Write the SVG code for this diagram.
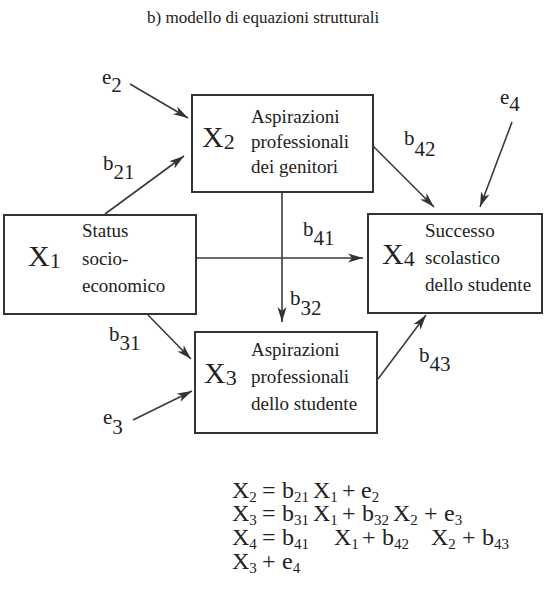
<svg xmlns="http://www.w3.org/2000/svg" width="544" height="597" viewBox="0 0 544 597" font-family="'Liberation Serif','Times New Roman',serif">
<style>
text{font-family:"Liberation Serif","Times New Roman",serif;fill:#222}
.t{font-size:17px}
.n{font-size:19px}
.X{font-size:30px}
.xs{font-size:22px}
.lb{font-size:21px}
.eq{font-size:24px}
.es{font-size:15px}
.box{fill:#fff;stroke:#333;stroke-width:2}
.c{stroke:#3a3a3a;stroke-width:1.6;fill:none;marker-end:url(#ah)}
</style>
<defs>
<marker id="ah" markerUnits="userSpaceOnUse" markerWidth="16" markerHeight="10" refX="15" refY="5" orient="auto">
<path d="M0,0.5 L15,5 L0,9.5 L4,5 z" fill="#333"/>
</marker>
</defs>
<rect width="544" height="597" fill="#fff"/>
<text class="t" x="147" y="23">b) modello di equazioni strutturali</text>

<g id="connectors">
<line class="c" x1="130" y1="84" x2="188" y2="118"/>
<line class="c" x1="105" y1="214" x2="184" y2="156"/>
<line class="c" x1="197" y1="258" x2="363" y2="258"/>
<line class="c" x1="282" y1="193" x2="282" y2="322"/>
<line class="c" x1="373" y1="146" x2="434" y2="207"/>
<line class="c" x1="512" y1="122" x2="480" y2="207"/>
<line class="c" x1="148" y1="315" x2="191" y2="359"/>
<line class="c" x1="133" y1="420" x2="192" y2="391"/>
<line class="c" x1="378" y1="379" x2="426" y2="315"/>
</g>

<g id="labels">
<text class="lb" x="102" y="84">e<tspan dy="8">2</tspan></text>
<text class="lb" x="103" y="170">b<tspan dy="9">21</tspan></text>
<text class="lb" x="109" y="341">b<tspan dy="9">31</tspan></text>
<text class="lb" x="103" y="424">e<tspan dy="10">3</tspan></text>
<text class="lb" x="303" y="236">b<tspan dy="9">41</tspan></text>
<text class="lb" x="290" y="305">b<tspan dy="10">32</tspan></text>
<text class="lb" x="404" y="145">b<tspan dy="11">42</tspan></text>
<text class="lb" x="500" y="104">e<tspan dy="7">4</tspan></text>
<text class="lb" x="419" y="362">b<tspan dy="9">43</tspan></text>
</g>

<g id="X1">
<rect class="box" x="4" y="215" width="192" height="99"/>
<text class="X" x="28" y="266">X<tspan class="xs" dy="2">1</tspan></text>
<text class="n" x="82" y="237">Status</text>
<text class="n" x="82" y="265">socio-</text>
<text class="n" x="82" y="292">economico</text>
</g>

<g id="X2">
<rect class="box" x="192" y="95" width="181" height="97"/>
<text class="X" x="202" y="147">X<tspan class="xs" dy="2">2</tspan></text>
<text class="n" x="251" y="123">Aspirazioni</text>
<text class="n" x="251" y="148">professionali</text>
<text class="n" x="251" y="173">dei genitori</text>
</g>

<g id="X3">
<rect class="box" x="195" y="332" width="182" height="101"/>
<text class="X" x="204" y="383">X<tspan class="xs" dy="2">3</tspan></text>
<text class="n" x="251" y="356">Aspirazioni</text>
<text class="n" x="251" y="383">professionali</text>
<text class="n" x="251" y="410">dello studente</text>
</g>

<g id="X4">
<rect class="box" x="368" y="214" width="174" height="99"/>
<text class="X" x="382" y="264">X<tspan class="xs" dy="2">4</tspan></text>
<text class="n" x="425" y="237">Successo</text>
<text class="n" x="425" y="264">scolastico</text>
<text class="n" x="425" y="291">dello studente</text>
</g>

<g id="equations">
<text class="eq" y="498"><tspan x="232">X</tspan><tspan class="es" dy="4">2</tspan><tspan x="262" dy="-4">=</tspan><tspan x="282">b</tspan><tspan class="es" dy="4">21</tspan><tspan x="313" dy="-4">X</tspan><tspan class="es" dy="4">1</tspan><tspan x="342" dy="-4">+</tspan><tspan x="361">e</tspan><tspan class="es" dy="4">2</tspan></text>
<text class="eq" y="521"><tspan x="232">X</tspan><tspan class="es" dy="4">3</tspan><tspan x="262" dy="-4">=</tspan><tspan x="282">b</tspan><tspan class="es" dy="4">31</tspan><tspan x="313" dy="-4">X</tspan><tspan class="es" dy="4">1</tspan><tspan x="342" dy="-4">+</tspan><tspan x="362">b</tspan><tspan class="es" dy="4">32</tspan><tspan x="393" dy="-4">X</tspan><tspan class="es" dy="4">2</tspan><tspan x="424" dy="-4">+</tspan><tspan x="444">e</tspan><tspan class="es" dy="4">3</tspan></text>
<text class="eq" y="545"><tspan x="232">X</tspan><tspan class="es" dy="4">4</tspan><tspan x="262" dy="-4">=</tspan><tspan x="282">b</tspan><tspan class="es" dy="4">41</tspan><tspan x="334" dy="-4">X</tspan><tspan class="es" dy="4">1</tspan><tspan x="362" dy="-4">+</tspan><tspan x="382">b</tspan><tspan class="es" dy="4">42</tspan><tspan x="431" dy="-4">X</tspan><tspan class="es" dy="4">2</tspan><tspan x="462" dy="-4">+</tspan><tspan x="482">b</tspan><tspan class="es" dy="4">43</tspan></text>
<text class="eq" y="569"><tspan x="232">X</tspan><tspan class="es" dy="4">3</tspan><tspan x="262" dy="-4">+</tspan><tspan x="282">e</tspan><tspan class="es" dy="4">4</tspan></text>
</g>
</svg>
